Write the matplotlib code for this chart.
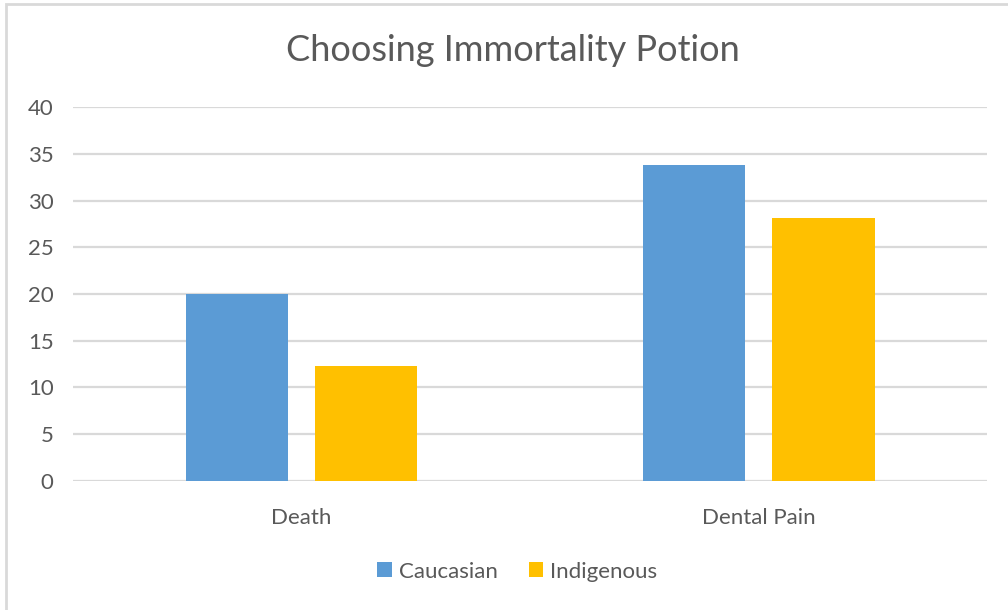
import matplotlib.pyplot as plt
import numpy as np
from matplotlib.patches import Rectangle

# Data
categories = ["Death", "Dental Pain"]
caucasian = [20.0, 33.8]
indigenous = [12.3, 28.1]
series_names = ["Caucasian", "Indigenous"]
yticks = [0, 5, 10, 15, 20, 25, 30, 35, 40]

blue = "#5B9BD5"
gold = "#FFC000"
text_col = "#595959"
grid_col = "#D9D9D9"

plt.rcParams['font.family'] = ['Lato', 'DejaVu Sans']

fig = plt.figure(figsize=(10.08, 6.10), dpi=100)
ax = fig.add_axes([0.0724, 0.212, 0.907, 0.612])

x = np.arange(len(categories))
w = 0.224
off = 0.1415
ax.bar(x - off, caucasian, w, color=blue, label=series_names[0], zorder=3)
ax.bar(x + off, indigenous, w, color=gold, label=series_names[1], zorder=3)

ax.set_xlim(-0.5, 1.5)
ax.set_ylim(0, 40)
ax.set_yticks(yticks)
ax.set_xticks(x)
ax.set_xticklabels(categories)
ax.tick_params(axis='both', length=0, labelsize=16, colors=text_col)
ax.tick_params(axis='y', pad=14)
ax.tick_params(axis='x', pad=20)
ax.grid(axis='y', color=grid_col, linewidth=1.6, zorder=0)
for s in ax.spines.values():
    s.set_visible(False)

fig.text(0.5085, 0.918, "Choosing Immortality Potion", ha='center', va='center',
         fontsize=26, color=text_col)

fig.legend(loc='center', bbox_to_anchor=(0.513, 0.063), ncol=2, frameon=False,
           fontsize=16, labelcolor=text_col, handlelength=0.65, handleheight=0.65,
           handletextpad=0.3, columnspacing=1.4)

# outer chart border
fig.patches.append(Rectangle((5.5 / 1008, -0.05), 1.2, 1 - 3.5 / 610 + 0.05,
                             transform=fig.transFigure, fill=False,
                             edgecolor=grid_col, linewidth=2))

fig.savefig("out.png", dpi=100)
